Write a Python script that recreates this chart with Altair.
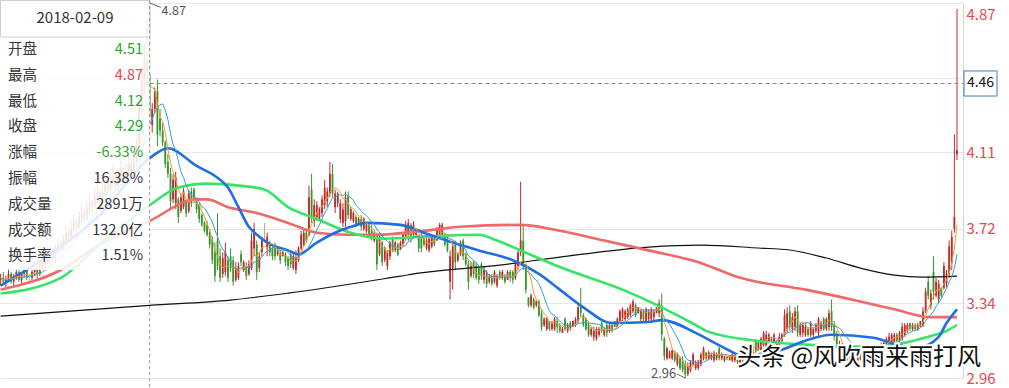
import altair as alt
import pandas as pd

# ---------------- data (open, high, low, close) ----------------
BARS_PRE = [
    (3.46,3.49,3.43,3.47),(3.47,3.50,3.44,3.45),(3.45,3.48,3.42,3.46),(3.46,3.51,3.45,3.49),
    (3.49,3.50,3.44,3.45),(3.45,3.49,3.43,3.48),(3.48,3.52,3.46,3.50),(3.50,3.51,3.45,3.46),
    (3.46,3.50,3.44,3.49),(3.49,3.53,3.47,3.51),(3.51,3.52,3.46,3.47),(3.47,3.49,3.44,3.47),
    (3.47,3.53,3.45,3.50),(3.50,3.55,3.48,3.52),(3.52,3.54,3.46,3.49),(3.49,3.56,3.48,3.53),
    (3.53,3.59,3.51,3.56),(3.57,3.59,3.52,3.55),(3.55,3.61,3.54,3.58),(3.58,3.63,3.56,3.60),
    (3.61,3.62,3.55,3.57),(3.57,3.64,3.56,3.61),(3.61,3.67,3.60,3.64),(3.65,3.66,3.60,3.62),
    (3.62,3.69,3.61,3.66),(3.66,3.73,3.65,3.70),(3.71,3.72,3.66,3.68),(3.68,3.75,3.67,3.72),
    (3.72,3.79,3.71,3.75),(3.76,3.77,3.71,3.73),(3.73,3.81,3.72,3.78),(3.78,3.84,3.76,3.80),
    (3.81,3.82,3.75,3.77),(3.77,3.86,3.76,3.82),(3.82,3.89,3.80,3.85),(3.86,3.87,3.80,3.83),
    (3.83,3.92,3.82,3.88),(3.88,3.95,3.86,3.90),(3.91,3.92,3.84,3.86),(3.86,3.95,3.85,3.91),
    (3.91,3.99,3.89,3.95),(3.96,3.97,3.90,3.92),(3.92,4.00,3.90,3.96),(3.96,4.04,3.94,3.99),
    (4.00,4.01,3.92,3.94),(3.94,4.02,3.92,3.98),(3.98,4.07,3.96,4.02),(4.03,4.04,3.95,3.97),
    (3.97,4.05,3.95,4.01),(4.01,4.10,3.99,4.05),(4.06,4.07,3.97,4.00),(4.00,4.11,3.98,4.06),
    (4.06,4.18,4.04,4.12),(4.14,4.40,4.12,4.36),(4.36,4.55,4.30,4.48),(4.48,4.66,4.40,4.58),
    (4.58,4.78,4.45,4.52),
]
BAR_0209 = [(4.51, 4.87, 4.12, 4.29)]
BARS_A = [
    (4.25,4.36,4.21,4.33),(4.33,4.44,4.31,4.42),(4.42,4.48,4.14,4.20),(4.28,4.33,4.19,4.22),
    (4.22,4.26,4.14,4.16),(4.16,4.17,4.03,4.05),(4.06,4.10,3.98,4.00),(4.00,4.03,3.82,3.86),
    (3.87,4.00,3.85,3.97),(3.85,4.01,3.82,3.98),(3.87,3.88,3.75,3.78),(3.81,3.90,3.80,3.88),
    (3.83,3.93,3.82,3.91),(3.86,3.87,3.78,3.80),(3.81,3.92,3.80,3.90),(3.91,3.93,3.83,3.85),
    (3.92,3.93,3.85,3.87),(3.86,3.88,3.80,3.82),(3.84,3.85,3.75,3.77),(3.79,3.80,3.73,3.74),
    (3.75,3.76,3.70,3.71),(3.74,3.76,3.68,3.69),(3.70,3.72,3.62,3.64),(3.67,3.68,3.54,3.56),
    (3.60,3.65,3.45,3.48),(3.66,3.80,3.51,3.53),(3.58,3.62,3.45,3.47),(3.49,3.60,3.47,3.57),
    (3.50,3.65,3.48,3.60),(3.56,3.58,3.45,3.47),(3.58,3.62,3.50,3.52),(3.56,3.58,3.43,3.45),
    (3.46,3.55,3.45,3.52),(3.47,3.55,3.46,3.53),(3.59,3.61,3.53,3.55),(3.51,3.56,3.50,3.55),
    (3.53,3.55,3.46,3.48),(3.49,3.56,3.48,3.54),(3.52,3.70,3.51,3.66),(3.62,3.75,3.58,3.72),
    (3.64,3.66,3.46,3.50),(3.52,3.60,3.50,3.58),(3.60,3.68,3.58,3.66),(3.70,3.75,3.65,3.70),
    (3.62,3.70,3.58,3.68),(3.65,3.66,3.58,3.60),(3.62,3.63,3.56,3.58),(3.63,3.65,3.56,3.58),
    (3.59,3.63,3.58,3.62),(3.60,3.61,3.54,3.56),(3.58,3.61,3.58,3.60),(3.59,3.60,3.53,3.55),
    (3.57,3.58,3.51,3.53),
]
BARS_B = [
    (3.59,3.60,3.52,3.54),(3.52,3.60,3.51,3.58),(3.51,3.61,3.49,3.57),(3.56,3.63,3.55,3.62),
    (3.62,3.71,3.61,3.69),(3.64,3.72,3.63,3.70),(3.70,3.71,3.65,3.66),(3.69,3.94,3.68,3.88),
    (3.92,4.00,3.75,3.78),(3.76,3.87,3.73,3.84),(3.78,3.86,3.76,3.84),(3.77,3.83,3.76,3.82),
    (3.80,3.89,3.78,3.87),(3.84,3.97,3.82,3.93),(3.86,3.93,3.83,3.91),(3.90,4.06,3.88,4.00),
    (4.00,4.05,3.88,3.90),(3.83,3.92,3.80,3.90),(3.85,3.91,3.83,3.90),(3.77,3.87,3.75,3.85),
    (3.75,3.85,3.73,3.82),(3.76,3.91,3.73,3.88),(3.89,3.91,3.77,3.79),(3.77,3.83,3.76,3.82),
    (3.76,3.81,3.75,3.80),(3.78,3.79,3.73,3.74),(3.75,3.78,3.74,3.77),(3.77,3.79,3.71,3.73),
    (3.72,3.78,3.71,3.77),(3.71,3.75,3.70,3.74),(3.74,3.75,3.68,3.69),(3.71,3.74,3.66,3.67),
    (3.66,3.71,3.65,3.70),(3.69,3.70,3.51,3.54),(3.59,3.70,3.58,3.68),(3.65,3.66,3.53,3.55),
    (3.56,3.63,3.55,3.62),(3.53,3.61,3.51,3.60),(3.58,3.66,3.56,3.65),(3.67,3.68,3.60,3.61),
    (3.61,3.66,3.60,3.65),(3.64,3.65,3.58,3.59),(3.62,3.66,3.61,3.65),(3.64,3.70,3.63,3.69),
    (3.68,3.76,3.66,3.74),(3.69,3.77,3.66,3.75),(3.74,3.75,3.65,3.67),(3.69,3.76,3.68,3.74),
    (3.69,3.72,3.68,3.71),(3.68,3.69,3.60,3.62),
]
BARS_C = [
    (3.68,3.70,3.60,3.62),(3.67,3.68,3.63,3.64),(3.62,3.68,3.61,3.66),(3.61,3.68,3.60,3.67),
    (3.63,3.69,3.62,3.68),(3.67,3.68,3.63,3.64),(3.66,3.73,3.66,3.72),(3.68,3.75,3.67,3.74),
    (3.69,3.75,3.68,3.74),(3.69,3.70,3.63,3.64),(3.66,3.68,3.60,3.61),(3.45,3.61,3.36,3.58),
    (3.52,3.66,3.41,3.63),(3.64,3.66,3.51,3.55),(3.56,3.60,3.55,3.59),(3.59,3.66,3.58,3.65),
    (3.66,3.67,3.56,3.58),(3.59,3.60,3.53,3.54),(3.54,3.56,3.41,3.45),(3.48,3.55,3.47,3.53),
    (3.55,3.56,3.47,3.49),(3.53,3.55,3.46,3.47),(3.52,3.53,3.44,3.46),(3.54,3.55,3.46,3.48),
    (3.46,3.53,3.44,3.51),(3.50,3.51,3.42,3.44),(3.45,3.49,3.44,3.48),(3.48,3.49,3.43,3.44),
    (3.45,3.51,3.44,3.50),(3.43,3.49,3.42,3.48),(3.50,3.51,3.46,3.47),(3.47,3.51,3.46,3.50),
    (3.48,3.49,3.44,3.45),(3.46,3.51,3.46,3.50),(3.50,3.51,3.45,3.47),(3.50,3.51,3.44,3.46),
    (3.47,3.56,3.46,3.55),(3.53,3.61,3.51,3.60),(3.60,3.96,3.58,3.66),(3.66,3.74,3.51,3.53),
    (3.52,3.54,3.39,3.41),(3.37,3.37,3.32,3.33),(3.33,3.39,3.32,3.38),(3.36,3.37,3.31,3.32),
    (3.33,3.36,3.32,3.35),(3.35,3.36,3.27,3.28),(3.29,3.31,3.20,3.22),(3.23,3.27,3.22,3.26),
    (3.21,3.27,3.20,3.26),(3.25,3.25,3.20,3.21),(3.21,3.25,3.20,3.24),(3.21,3.27,3.20,3.26),
]
BARS_D = [
    (3.25,3.27,3.19,3.22),(3.23,3.24,3.19,3.20),(3.19,3.22,3.19,3.21),(3.26,3.27,3.20,3.21),
    (3.20,3.24,3.19,3.23),(3.24,3.25,3.20,3.21),(3.22,3.25,3.22,3.25),(3.23,3.27,3.22,3.26),
    (3.25,3.34,3.24,3.32),(3.33,3.42,3.27,3.29),(3.28,3.29,3.22,3.23),(3.26,3.27,3.20,3.21),
    (3.23,3.25,3.17,3.18),(3.18,3.22,3.17,3.21),(3.17,3.22,3.15,3.20),(3.16,3.22,3.15,3.21),
    (3.18,3.22,3.17,3.21),(3.24,3.25,3.19,3.20),(3.18,3.22,3.17,3.21),(3.23,3.24,3.17,3.19),
    (3.20,3.24,3.19,3.23),(3.23,3.24,3.19,3.20),(3.25,3.25,3.22,3.22),(3.22,3.27,3.22,3.26),
    (3.25,3.31,3.24,3.30),(3.27,3.32,3.25,3.31),(3.26,3.31,3.25,3.30),(3.27,3.32,3.26,3.31),
    (3.28,3.34,3.27,3.33),(3.30,3.36,3.29,3.35),(3.33,3.34,3.27,3.28),(3.29,3.32,3.29,3.32),
    (3.26,3.31,3.25,3.30),(3.30,3.31,3.24,3.26),(3.25,3.32,3.24,3.31),(3.26,3.31,3.25,3.30),
    (3.26,3.32,3.25,3.31),(3.27,3.31,3.25,3.30),(3.29,3.32,3.29,3.32),(3.29,3.36,3.27,3.34),
    (3.33,3.39,3.15,3.18),(3.16,3.17,3.05,3.07),(3.06,3.12,3.05,3.11),(3.06,3.10,3.06,3.09),
    (3.06,3.11,3.05,3.10),(3.09,3.10,3.04,3.05),(3.03,3.09,3.02,3.08),(3.06,3.07,3.00,3.01),
    (3.05,3.07,2.99,3.00),(3.03,3.05,2.96,2.98),(2.98,3.04,2.97,3.02),(3.00,3.05,2.99,3.04),
]
BARS_E = [
    (3.03,3.09,3.02,3.08),(3.01,3.05,3.00,3.04),(3.01,3.05,3.00,3.05),(3.03,3.09,3.02,3.08),
    (3.06,3.12,3.05,3.11),(3.09,3.09,3.05,3.06),(3.06,3.10,3.05,3.09),(3.06,3.09,3.05,3.08),
    (3.05,3.10,3.04,3.09),(3.06,3.09,3.05,3.08),(3.11,3.12,3.05,3.06),(3.06,3.09,3.05,3.08),
    (3.05,3.07,3.04,3.07),(3.07,3.07,3.05,3.06),(3.05,3.07,3.05,3.07),(3.05,3.09,3.04,3.08),
    (3.05,3.08,3.04,3.07),(3.07,3.08,3.03,3.04),(3.04,3.07,3.03,3.06),(3.05,3.08,3.04,3.07),
    (3.07,3.08,3.04,3.05),(3.05,3.10,3.04,3.09),(3.06,3.10,3.05,3.09),(3.08,3.14,3.07,3.12),
    (3.15,3.16,3.09,3.10),(3.10,3.15,3.10,3.14),(3.10,3.17,3.09,3.16),(3.13,3.20,3.12,3.19),
    (3.12,3.20,3.10,3.18),(3.13,3.19,3.12,3.18),(3.16,3.17,3.09,3.11),(3.13,3.19,3.12,3.18),
    (3.10,3.15,3.09,3.14),(3.13,3.19,3.12,3.17),(3.15,3.19,3.14,3.18),(3.18,3.31,3.17,3.28),
    (3.21,3.32,3.19,3.29),(3.30,3.33,3.20,3.22),(3.21,3.29,3.19,3.27),(3.22,3.32,3.20,3.30),
    (3.30,3.33,3.17,3.19),(3.18,3.24,3.17,3.23),(3.19,3.24,3.17,3.23),(3.18,3.24,3.17,3.22),
    (3.21,3.22,3.17,3.18),(3.18,3.25,3.17,3.24),(3.18,3.22,3.17,3.21),(3.20,3.24,3.19,3.23),
    (3.19,3.27,3.17,3.26),(3.21,3.25,3.20,3.24),(3.26,3.27,3.20,3.21),(3.21,3.27,3.20,3.26),
]
BARS_F = [
    (3.22,3.31,3.20,3.29),(3.30,3.36,3.20,3.22),(3.23,3.25,3.15,3.17),(3.18,3.20,3.12,3.13),
    (3.10,3.15,3.09,3.13),(3.13,3.14,3.07,3.08),(3.11,3.12,3.05,3.06),(3.05,3.10,3.04,3.09),
    (3.09,3.10,3.04,3.05),(3.04,3.09,3.03,3.08),(3.08,3.10,3.04,3.05),(3.05,3.09,3.04,3.08),
    (3.06,3.11,3.05,3.10),(3.10,3.11,3.05,3.06),(3.05,3.09,3.04,3.08),(3.05,3.10,3.04,3.09),
    (3.07,3.11,3.06,3.10),(3.10,3.11,3.06,3.07),(3.07,3.11,3.06,3.10),(3.08,3.12,3.07,3.11),
    (3.09,3.14,3.09,3.13),(3.11,3.15,3.10,3.14),(3.12,3.17,3.12,3.16),(3.13,3.19,3.12,3.17),
    (3.14,3.19,3.13,3.18),(3.14,3.19,3.13,3.18),(3.18,3.19,3.14,3.15),(3.15,3.20,3.14,3.19),
    (3.16,3.24,3.15,3.22),(3.18,3.24,3.17,3.23),(3.20,3.24,3.19,3.23),(3.24,3.24,3.20,3.21),
    (3.21,3.24,3.20,3.23),(3.23,3.24,3.20,3.21),(3.21,3.24,3.20,3.23),(3.22,3.25,3.22,3.25),
    (3.23,3.32,3.22,3.30),(3.30,3.42,3.29,3.40),(3.45,3.48,3.36,3.38),(3.33,3.41,3.31,3.39),
    (3.50,3.58,3.36,3.40),(3.38,3.47,3.37,3.45),(3.36,3.46,3.34,3.44),(3.42,3.42,3.37,3.38),
    (3.42,3.55,3.41,3.53),(3.44,3.51,3.42,3.49),(3.49,3.66,3.47,3.63),(3.55,3.71,3.51,3.68),
    (3.72,4.20,3.70,3.78),(4.10,4.84,4.07,4.12),
]

# long moving averages (bar index, value)
MA20_IDX = [0,19,38,57,64,75,83,87,91,95,99,102,110,114,121,128,134,140,153,162,173,183,196,206,214,223,234,248,253,266,276,285,298,308,318,334,347,352,359,362,366]
MA20_VAL = [3.43,3.59,3.79,4.08,4.13,4.04,3.98,3.93,3.83,3.73,3.68,3.65,3.61,3.59,3.65,3.70,3.73,3.75,3.74,3.70,3.65,3.61,3.56,3.49,3.41,3.32,3.24,3.245,3.255,3.19,3.12,3.07,3.10,3.15,3.18,3.165,3.12,3.12,3.17,3.24,3.31]
MA60_IDX = [0,23,38,57,68,79,91,101,110,121,134,147,162,183,190,199,214,238,253,266,270,289,308,328,342,355,362,366]
MA60_VAL = [3.39,3.47,3.64,3.84,3.93,3.95,3.94,3.92,3.83,3.77,3.70,3.67,3.68,3.69,3.66,3.61,3.525,3.41,3.32,3.23,3.20,3.15,3.13,3.12,3.13,3.17,3.20,3.23]
MA120_IDX = [0,23,38,57,75,79,87,98,110,121,133,144,162,176,199,214,231,248,267,283,308,329,342,356,366]
MA120_VAL = [3.41,3.51,3.64,3.76,3.87,3.87,3.83,3.80,3.75,3.70,3.69,3.69,3.71,3.73,3.74,3.71,3.66,3.61,3.55,3.47,3.41,3.35,3.31,3.27,3.27]
MA250_IDX = [0,57,88,110,153,160,191,214,248,268,290,302,316,329,342,353,366]
MA250_VAL = [3.275,3.33,3.357,3.392,3.479,3.494,3.535,3.576,3.627,3.637,3.622,3.612,3.571,3.52,3.484,3.474,3.479]

Y_TICKS = [4.87, 4.49, 4.11, 3.72, 3.34, 2.96]
CROSS_PRICE = 4.46
CROSS_DATE = "2018-02-09"
INFO_LABELS = ["开盘", "最高", "最低", "收盘", "涨幅", "振幅", "成交量", "成交额", "换手率"]
INFO_VALUES = ["4.51", "4.87", "4.12", "4.29", "-6.33%", "16.38%", "2891万", "132.0亿", "1.51%"]
INFO_TONE = ["down", "up", "down", "down", "down", "flat", "flat", "flat", "flat"]
WATERMARK = "头条 @风吹雨来雨打风"

# ---------------- styles ----------------
FONT = "Noto Sans CJK SC"
C_UP, C_DN, C_FLAT = "#bb2c2c", "#379530", "#aaaaaa"
TXT_RED, TXT_GREEN, TXT_GRAY = "#e5484d", "#2aa52a", "#333333"
W, H = 963, 375

bars = BARS_PRE + BAR_0209 + BARS_A + BARS_B + BARS_C + BARS_D + BARS_E + BARS_F
df = pd.DataFrame(bars, columns=["open", "high", "low", "close"])
df["i"] = range(len(df))
df["col"] = [C_UP if c > o else (C_DN if c < o else C_FLAT) for o, c in zip(df["open"], df["close"])]
cross_i = len(BARS_PRE)

xs = alt.Scale(domain=[-0.25, 368.3], nice=False, zero=False)
ys = alt.Scale(domain=[2.96, 4.87], nice=False, zero=False)

yaxis = alt.Axis(
    orient="right", values=Y_TICKS, title=None, ticks=False, labelPadding=3,
    labelFont=FONT, labelFontSize=15, labelColor=TXT_RED, labelAlign="left",
    labelBaseline="middle", labelFlush=False, labelOverlap=False,
    grid=True, gridColor="#e6e6e6", gridWidth=1, domain=True, domainColor="#d6d6d6",
    labelExpr="abs(datum.value-4.49)<0.005 ? '' : format(datum.value, '.2f')",
    labelOffset={"condition": {"test": "datum.value > 4.8", "value": 11}, "value": 0},
)


def XF(f):
    return alt.X(f, scale=xs, axis=None)


def YF(f):
    return alt.Y(f, scale=ys, axis=yaxis)


layers = []
layers.append(alt.Chart(df).mark_rule(strokeWidth=1).encode(
    x=XF("i:Q"), y=YF("low:Q"), y2="high:Q", color=alt.Color("col:N", scale=None)))
layers.append(alt.Chart(df).mark_rule(strokeWidth=1.8).encode(
    x=XF("i:Q"), y=YF("open:Q"), y2="close:Q", color=alt.Color("col:N", scale=None)))


def ma_layer(idx, vals, color, width):
    d = pd.DataFrame({"i": idx, "v": vals})
    return alt.Chart(d).mark_line(color=color, strokeWidth=width, interpolate="monotone").encode(
        x=XF("i:Q"), y=YF("v:Q"))


layers.append(ma_layer(MA250_IDX, MA250_VAL, "#111111", 1.2))
layers.append(ma_layer(MA120_IDX, MA120_VAL, "#f06868", 2.6))
layers.append(ma_layer(MA60_IDX, MA60_VAL, "#36e466", 2.6))
layers.append(ma_layer(MA20_IDX, MA20_VAL, "#1f6fe0", 2.6))

fast = alt.Chart(df).transform_window(
    ma5="mean(close)", frame=[-4, 0], sort=[alt.SortField("i")]
).transform_window(
    ma10="mean(close)", frame=[-9, 0], sort=[alt.SortField("i")])
layers.append(fast.mark_line(color="#2ea3d8", strokeWidth=1).encode(x=XF("i:Q"), y=YF("ma10:Q")))
layers.append(fast.mark_line(color="#f0a030", strokeWidth=1).encode(x=XF("i:Q"), y=YF("ma5:Q")))

one = pd.DataFrame({"k": [0]})

# info box (semi-transparent) over the left part
layers.append(alt.Chart(one).mark_rect(color="white", opacity=0.86).encode(
    x=alt.value(0), x2=alt.value(150), y=alt.value(-3), y2=alt.value(267)))
layers.append(alt.Chart(one).mark_rect(fill="white", fillOpacity=0.0, stroke="#cfcfcf", strokeWidth=1).encode(
    x=alt.value(0.5), x2=alt.value(150), y=alt.value(-2.5), y2=alt.value(34)))
layers.append(alt.Chart(one).mark_text(text=CROSS_DATE, font=FONT, fontSize=15, color="#333333",
                                       align="center", baseline="middle").encode(
    x=alt.value(75), y=alt.value(15)))
tone_col = {"up": TXT_RED, "down": TXT_GREEN, "flat": TXT_GRAY}
for k, (lab, val, tone) in enumerate(zip(INFO_LABELS, INFO_VALUES, INFO_TONE)):
    yy = 47 + 25.8 * k
    layers.append(alt.Chart(one).mark_text(text=lab, font=FONT, fontSize=14.5, color="#333333",
                                           align="left", baseline="middle").encode(
        x=alt.value(8), y=alt.value(yy)))
    layers.append(alt.Chart(one).mark_text(text=val, font=FONT, fontSize=14.5, color=tone_col[tone],
                                           align="right", baseline="middle").encode(
        x=alt.value(143), y=alt.value(yy)))

# crosshair
cross_df = pd.DataFrame({"i": [cross_i], "p": [CROSS_PRICE]})
layers.append(alt.Chart(cross_df).mark_rule(color="#9a9a9a", strokeDash=[3, 3], strokeWidth=1).encode(
    x=XF("i:Q"), y=alt.value(-3), y2=alt.value(385)))
layers.append(alt.Chart(cross_df).mark_rule(color="#8a8a8a", strokeDash=[4, 3], strokeWidth=1).encode(
    x=XF("i:Q"), x2=alt.value(963), y=YF("p:Q")))

# max / min markers
imax = int(df["high"].idxmax()); pmax = float(df["high"].max())
imin = int(df["low"].idxmin()); pmin = float(df["low"].min())
ext = pd.DataFrame({
    "i": [imax, imin], "p": [pmax, pmin],
    "i2": [imax + 4.3, imin - 3.2], "p2": [pmax - 0.022, pmin + 0.02],
    "txt": [f"{pmax:.2f}", f"{pmin:.2f}"],
})
layers.append(alt.Chart(ext).mark_rule(color="#666666", strokeWidth=1).encode(
    x=XF("i:Q"), x2="i2:Q", y=YF("p:Q"), y2="p2:Q"))
layers.append(alt.Chart(ext.iloc[[0]]).mark_text(font=FONT, fontSize=12.5, color="#555555",
                                                 align="left", baseline="middle", dx=12, dy=7.5).encode(
    x=XF("i:Q"), y=YF("p:Q"), text="txt:N"))
layers.append(alt.Chart(ext.iloc[[1]]).mark_text(font=FONT, fontSize=13, color="#555555",
                                                 align="right", baseline="middle", dx=-9, dy=-4).encode(
    x=XF("i:Q"), y=YF("p:Q"), text="txt:N"))

# crosshair price tag on the axis
layers.append(alt.Chart(cross_df).mark_point(
    shape="M-1,-0.76L1,-0.76L1,0.76L-1,0.76Z", size=1089, filled=True,
    fill="white", stroke="#3f78c0", strokeWidth=1, opacity=1).encode(
    x=alt.value(980.5), y=YF("p:Q")))
layers.append(alt.Chart(cross_df).mark_text(font=FONT, fontSize=14, color="#111111",
                                            align="center", baseline="middle").encode(
    x=alt.value(980.5), y=YF("p:Q"), text=alt.Text("p:Q", format=".2f")))

# watermark
layers.append(alt.Chart(one).mark_text(text=WATERMARK, font=FONT, fontSize=24, color="white",
                                       stroke="white", strokeWidth=4, align="left",
                                       baseline="middle").encode(
    x=alt.value(737), y=alt.value(355)))
layers.append(alt.Chart(one).mark_text(text=WATERMARK, font=FONT, fontSize=24, color="#111111",
                                       align="left", baseline="middle").encode(
    x=alt.value(737), y=alt.value(355)))

chart = alt.layer(*layers).properties(
    width=W, height=H,
    autosize=alt.AutoSizeParams(type="none"),
    padding={"left": 0, "top": 3, "right": 46, "bottom": 10},
    background="white",
).configure_view(stroke=None)

chart.save("out.html", embed_options={"renderer": "svg", "actions": False})
